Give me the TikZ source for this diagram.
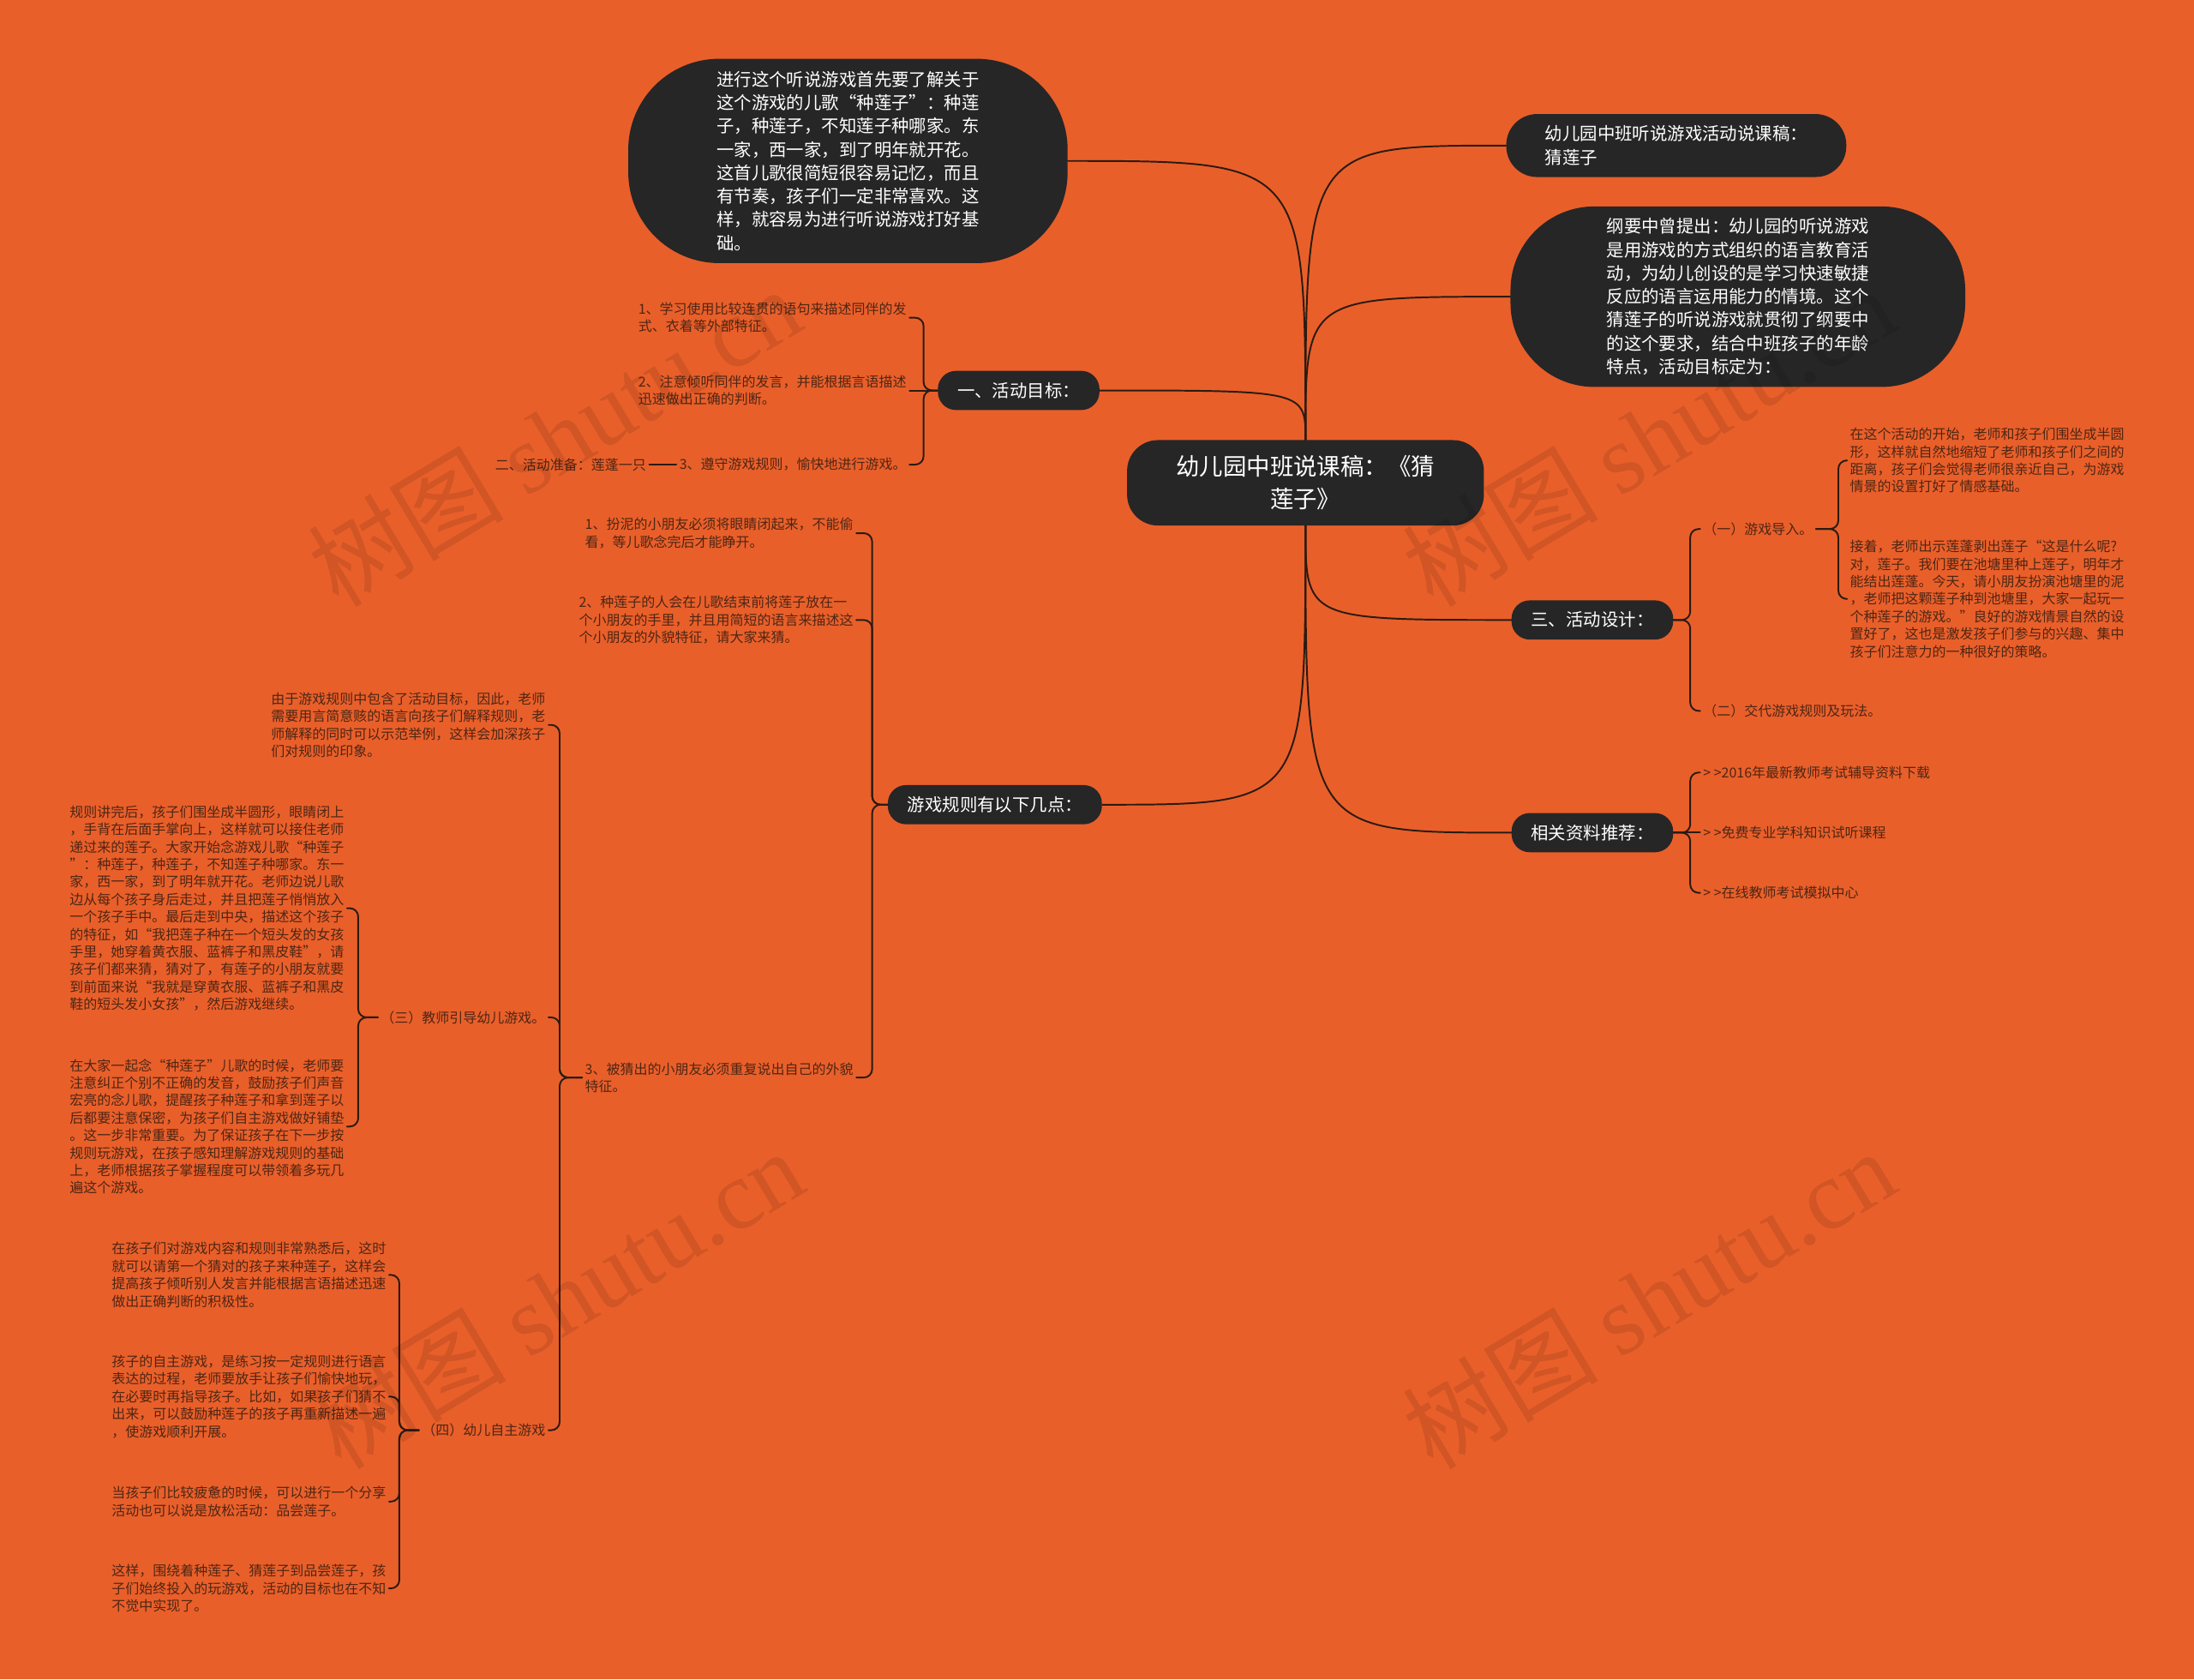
\documentclass[tikz,border=0pt]{standalone}
\usepackage{fontspec}
\setmainfont{Noto Sans CJK SC}
\newfontfamily\wmserif{Liberation Serif}
\definecolor{bgorange}{HTML}{E95F2A}
\definecolor{nodedark}{HTML}{262626}
\definecolor{inkbrown}{HTML}{4E2614}
\definecolor{linkdark}{HTML}{2B1B12}

\begin{document}
\begin{tikzpicture}[x=1pt,y=-1pt, line join=round, line cap=round,
	link/.style={draw=linkdark, line width=1.2pt},
	brace/.style={link, rounded corners=6pt},
	hub/.style={fill=nodedark, text=white, rounded corners=22pt, minimum width=255pt, minimum height=61pt, align=center, font=\fontsize{16.8}{23}\selectfont},
	bubble/.style={fill=nodedark, text=white, align=left, font=\fontsize{12.5}{16.7}\selectfont},
	tag/.style={fill=nodedark, text=white, rounded corners=13pt, minimum height=28pt, inner xsep=14pt, font=\fontsize{12.5}{15}\selectfont},
	leaf/.style={text=inkbrown, align=left, inner sep=2pt, font=\fontsize{9.8}{12.5}\selectfont},
	wm/.style={text=black, opacity=0.1, rotate=31, font=\fontsize{70}{70}\selectfont}]
	\useasboundingbox (0,0) rectangle (1568,1200);
	\fill[bgorange] (0,0) rectangle (1568,1200);
	%\draw[gray!50] (0,0) grid[step=50] (1568,1200);
	% centre and first level
	\node[hub] (ctr) at (933,345) {幼儿园中班说课稿：《猜\\莲子》};
	\node[bubble, rounded corners=65pt, minimum width=314pt, minimum height=146pt] (song) at (606,115) {进行这个听说游戏首先要了解关于\\这个游戏的儿歌“种莲子”：种莲\\子，种莲子，不知莲子种哪家。东\\一家，西一家，到了明年就开花。\\这首儿歌很简短很容易记忆，而且\\有节奏，孩子们一定非常喜欢。这\\样，就容易为进行听说游戏打好基\\础。};
	\node[tag] (goal) at (728,279) {一、活动目标：};
	\node[tag] (rules) at (711,575) {游戏规则有以下几点：};
	\node[bubble, rounded corners=22pt, minimum width=243pt, minimum height=45pt] (title) at (1198,104) {幼儿园中班听说游戏活动说课稿：\\猜莲子};
	\node[bubble, rounded corners=60pt, minimum width=325pt, minimum height=129pt] (outline) at (1242,212) {纲要中曾提出：幼儿园的听说游戏\\是用游戏的方式组织的语言教育活\\动，为幼儿创设的是学习快速敏捷\\反应的语言运用能力的情境。这个\\猜莲子的听说游戏就贯彻了纲要中\\的这个要求，结合中班孩子的年龄\\特点，活动目标定为：};
	\node[tag] (design) at (1138,443) {三、活动设计：};
	\node[tag] (refs) at (1138,595) {相关资料推荐：};
	\foreach \k in {song,goal} \draw[link] (ctr.north) .. controls (ctr.north |- \k.east) .. (\k.east);
	\foreach \k in {title,outline} \draw[link] (ctr.north) .. controls (ctr.north |- \k.west) .. (\k.west);
	\draw[link] (ctr.south) .. controls (ctr.south |- rules.east) .. (rules.east);
	\foreach \k in {design,refs} \draw[link] (ctr.south) .. controls (ctr.south |- \k.west) .. (\k.west);
	% goals
	\node[leaf, anchor=east] (g1) at (650,227) {1、学习使用比较连贯的语句来描述同伴的发\\式、衣着等外部特征。};
	\node[leaf, anchor=east] (g2) at (650,279) {2、注意倾听同伴的发言，并能根据言语描述\\迅速做出正确的判断。};
	\node[leaf, anchor=east] (g3) at (650,332) {3、遵守游戏规则，愉快地进行游戏。};
	\node[leaf, anchor=east] (prep) at (464,332) {二、活动准备：莲蓬一只};
	\foreach \k in {g1,g3} \draw[brace] (goal.west) -- ++(-10,0) |- (\k.east);
	\draw[link] (goal.west) -- (g2.east);
	\draw[link] (g3.west) -- (prep.east);
	% rules
	\node[leaf, anchor=east] (r1) at (612,381) {1、扮泥的小朋友必须将眼睛闭起来，不能偷\\看，等儿歌念完后才能睁开。};
	\node[leaf, anchor=east] (r2) at (612,443) {2、种莲子的人会在儿歌结束前将莲子放在一\\个小朋友的手里，并且用简短的语言来描述这\\个小朋友的外貌特征，请大家来猜。};
	\node[leaf, anchor=east] (r3) at (612,770) {3、被猜出的小朋友必须重复说出自己的外貌\\特征。};
	\foreach \k in {r1,r2,r3} \draw[brace] (rules.west) -- ++(-11,0) |- (\k.east);
	\node[leaf, anchor=east] (a1) at (392,518) {由于游戏规则中包含了活动目标，因此，老师\\需要用言简意赅的语言向孩子们解释规则，老\\师解释的同时可以示范举例，这样会加深孩子\\们对规则的印象。};
	\node[leaf, anchor=east] (t3) at (392,727) {（三）教师引导幼儿游戏。};
	\node[leaf, anchor=east] (t4) at (392,1022) {（四）幼儿自主游戏};
	\foreach \k in {a1,t3,t4} \draw[brace] (r3.west) -- ++(-16,0) |- (\k.east);
	\node[leaf, anchor=east] (b1) at (248,649) {规则讲完后，孩子们围坐成半圆形，眼睛闭上\\，手背在后面手掌向上，这样就可以接住老师\\递过来的莲子。大家开始念游戏儿歌“种莲子\\”：种莲子，种莲子，不知莲子种哪家。东一\\家，西一家，到了明年就开花。老师边说儿歌\\边从每个孩子身后走过，并且把莲子悄悄放入\\一个孩子手中。最后走到中央，描述这个孩子\\的特征，如“我把莲子种在一个短头发的女孩\\手里，她穿着黄衣服、蓝裤子和黑皮鞋”，请\\孩子们都来猜，猜对了，有莲子的小朋友就要\\到前面来说“我就是穿黄衣服、蓝裤子和黑皮\\鞋的短头发小女孩”，然后游戏继续。};
	\node[leaf, anchor=east] (b2) at (248,805) {在大家一起念“种莲子”儿歌的时候，老师要\\注意纠正个别不正确的发音，鼓励孩子们声音\\宏亮的念儿歌，提醒孩子种莲子和拿到莲子以\\后都要注意保密，为孩子们自主游戏做好铺垫\\。这一步非常重要。为了保证孩子在下一步按\\规则玩游戏，在孩子感知理解游戏规则的基础\\上，老师根据孩子掌握程度可以带领着多玩几\\遍这个游戏。};
	\foreach \k in {b1,b2} \draw[brace] (t3.west) -- ++(-14,0) |- (\k.east);
	\node[leaf, anchor=east] (c1) at (278,911) {在孩子们对游戏内容和规则非常熟悉后，这时\\就可以请第一个猜对的孩子来种莲子，这样会\\提高孩子倾听别人发言并能根据言语描述迅速\\做出正确判断的积极性。};
	\node[leaf, anchor=east] (c2) at (278,998) {孩子的自主游戏，是练习按一定规则进行语言\\表达的过程，老师要放手让孩子们愉快地玩，\\在必要时再指导孩子。比如，如果孩子们猜不\\出来，可以鼓励种莲子的孩子再重新描述一遍\\，使游戏顺利开展。};
	\node[leaf, anchor=east] (c3) at (278,1073) {当孩子们比较疲惫的时候，可以进行一个分享\\活动也可以说是放松活动：品尝莲子。};
	\node[leaf, anchor=east] (c4) at (278,1135) {这样，围绕着种莲子、猜莲子到品尝莲子，孩\\子们始终投入的玩游戏，活动的目标也在不知\\不觉中实现了。};
	\foreach \k in {c1,c2,c3,c4} \draw[brace] (t4.west) -- ++(-14,0) |- (\k.east);
	% design
	\node[leaf, anchor=west] (d1) at (1215,378) {（一）游戏导入。};
	\node[leaf, anchor=west] (d2) at (1215,508) {（二）交代游戏规则及玩法。};
	\foreach \k in {d1,d2} \draw[brace] (design.east) -- ++(12,0) |- (\k.west);
	\node[leaf, anchor=west] (e1) at (1320,329) {在这个活动的开始，老师和孩子们围坐成半圆\\形，这样就自然地缩短了老师和孩子们之间的\\距离，孩子们会觉得老师很亲近自己，为游戏\\情景的设置打好了情感基础。};
	\node[leaf, anchor=west] (e2) at (1320,428) {接着，老师出示莲蓬剥出莲子“这是什么呢?\\对，莲子。我们要在池塘里种上莲子，明年才\\能结出莲蓬。今天，请小朋友扮演池塘里的泥\\，老师把这颗莲子种到池塘里，大家一起玩一\\个种莲子的游戏。”良好的游戏情景自然的设\\置好了，这也是激发孩子们参与的兴趣、集中\\孩子们注意力的一种很好的策略。};
	\foreach \k in {e1,e2} \draw[brace] (d1.east) -- ++(16,0) |- (\k.west);
	% references
	\node[leaf, anchor=west] (f1) at (1215,552) {> >2016年最新教师考试辅导资料下载};
	\node[leaf, anchor=west] (f2) at (1215,595) {> >免费专业学科知识试听课程};
	\node[leaf, anchor=west] (f3) at (1215,638) {> >在线教师考试模拟中心};
	\foreach \k in {f1,f3} \draw[brace] (refs.east) -- ++(12,0) |- (\k.west);
	\draw[link] (refs.east) -- (f2.west);
	% watermarks
	\foreach \x/\y in {396/312, 1178/312, 398/928, 1178/928}
	\node[wm] at (\x,\y) {树图 {\wmserif shutu.cn}};
\end{tikzpicture}
\end{document}
